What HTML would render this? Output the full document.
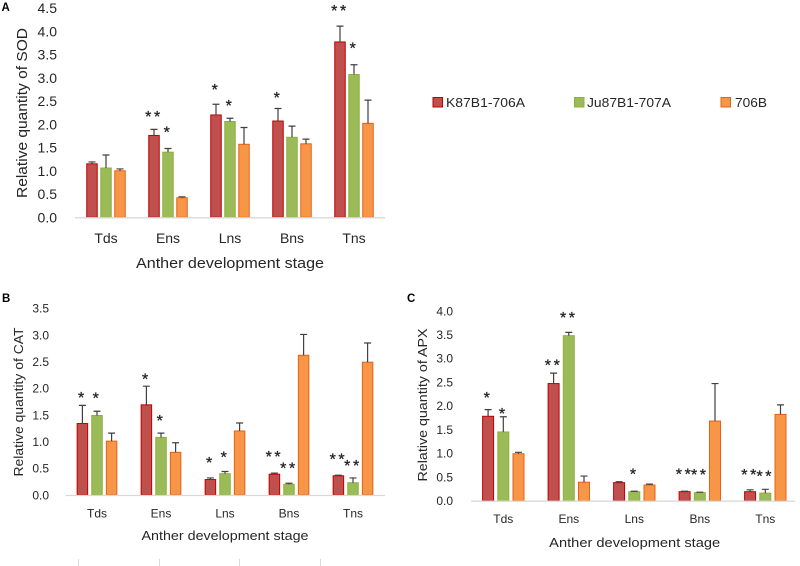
<!DOCTYPE html>
<html>
<head>
<meta charset="utf-8">
<title>Relative quantity of SOD, CAT and APX</title>
<style>
html,body{margin:0;padding:0;background:#fff;width:800px;height:566px;overflow:hidden}
svg{display:block;filter:blur(0.35px)}
text{font-family:"Liberation Sans",sans-serif;fill:#262626}
</style>
</head>
<body>
<svg id="chart" width="800" height="566" viewBox="0 0 800 566" xmlns="http://www.w3.org/2000/svg">
  <text x="1.5" y="11" font-size="11.5" font-weight="bold" style="fill:#000">A</text>
  <text x="2" y="302" font-size="11.5" font-weight="bold" style="fill:#000">B</text>
  <text x="407" y="302" font-size="11.5" font-weight="bold" style="fill:#000">C</text>

  <g>
    <rect x="433" y="97.5" width="9.5" height="9.5" fill="#c0504d" stroke="#c00000" stroke-width="1"/>
    <text x="446" y="107" font-size="13" textLength="79" lengthAdjust="spacingAndGlyphs">K87B1-706A</text>
    <rect x="574.5" y="97.5" width="9.5" height="9.5" fill="#9bbb59" stroke="#8db13f" stroke-width="1"/>
    <text x="587" y="107" font-size="13" textLength="84" lengthAdjust="spacingAndGlyphs">Ju87B1-707A</text>
    <rect x="721" y="97.5" width="9.5" height="9.5" fill="#f79646" stroke="#e8601a" stroke-width="1"/>
    <text x="735" y="107" font-size="13" textLength="32" lengthAdjust="spacingAndGlyphs">706B</text>
  </g>

  <g stroke="#d9d9d9" stroke-width="1">
    <line x1="78.5" y1="559" x2="78.5" y2="566"/>
    <line x1="159.5" y1="559" x2="159.5" y2="566"/>
    <line x1="239.5" y1="559" x2="239.5" y2="566"/>
    <line x1="320.5" y1="559" x2="320.5" y2="566"/>
  </g>
</svg>
<script>
const stages = ['Tds', 'Ens', 'Lns', 'Bns', 'Tns'];
const seriesNames = ['K87B1-706A', 'Ju87B1-707A', '706B'];

const sodTicks = ['0.0', '0.5', '1.0', '1.5', '2.0', '2.5', '3.0', '3.5', '4.0', '4.5'];
const sodK = [1.15, 1.76, 2.20, 2.07, 3.77];
const sodJ = [1.06, 1.40, 2.06, 1.72, 3.07];
const sodO = [1.00, 0.42, 1.57, 1.58, 2.02];
const sodErrK = [0.04, 0.13, 0.23, 0.27, 0.34];
const sodErrJ = [0.28, 0.08, 0.07, 0.24, 0.21];
const sodErrO = [0.04, 0.02, 0.36, 0.10, 0.50];
const sodStarsK = ['', '**', '*', '*', '**'];
const sodStarsJ = ['', '*', '*', '', '*'];
const sodStarsO = ['', '', '', '', ''];

const catTicks = ['0.0', '0.5', '1.0', '1.5', '2.0', '2.5', '3.0', '3.5'];
const catK = [1.34, 1.69, 0.29, 0.39, 0.36];
const catJ = [1.49, 1.08, 0.40, 0.20, 0.23];
const catO = [1.01, 0.80, 1.20, 2.62, 2.49];
const catErrK = [0.34, 0.35, 0.03, 0.02, 0.01];
const catErrJ = [0.08, 0.08, 0.04, 0.02, 0.09];
const catErrO = [0.15, 0.18, 0.15, 0.39, 0.36];
const catStarsK = ['*', '*', '*', '**', '**'];
const catStarsJ = ['*', '*', '*', '**', '**'];
const catStarsO = ['', '', '', '', ''];

const apxTicks = ['0.0', '0.5', '1.0', '1.5', '2.0', '2.5', '3.0', '3.5', '4.0'];
const apxK = [1.78, 2.47, 0.38, 0.19, 0.19];
const apxJ = [1.45, 3.48, 0.19, 0.17, 0.16];
const apxO = [0.99, 0.39, 0.33, 1.68, 1.82];
const apxErrK = [0.14, 0.22, 0.02, 0.01, 0.04];
const apxErrJ = [0.32, 0.07, 0.01, 0.01, 0.08];
const apxErrO = [0.03, 0.13, 0.02, 0.79, 0.20];
const apxStarsK = ['*', '**', '', '**', '**'];
const apxStarsJ = ['*', '**', '*', '**', '**'];
const apxStarsO = ['', '', '', '', ''];

const seriesFill = ['#c0504d', '#9bbb59', '#f79646'];
const seriesStroke = ['#c00000', '#8db13f', '#e8601a'];
const NS = 'http://www.w3.org/2000/svg';
const root = document.getElementById('chart');

function el(parent, tag, attrs, txt) {
  const e = document.createElementNS(NS, tag);
  for (const k in attrs) e.setAttribute(k, attrs[k]);
  if (txt !== undefined) e.textContent = txt;
  parent.appendChild(e);
  return e;
}

function drawPanel(p) {
  const g = el(root, 'g', {});
  
  
  const maxVal = parseFloat(p.ticks[p.ticks.length - 1]);
  const y = v => p.y0 - (v / maxVal) * (p.y0 - p.yTop);
  const gx = i => p.x1st + i * p.groupStep;

  p.ticks.forEach(t => {
    const lab = el(g, 'text', {x: p.tickRight, y: y(parseFloat(t)) + p.tickFont * 0.36, 'text-anchor': 'end', 'font-size': p.tickFont}, t);
    
    
  });

  p.series.forEach((vals, s) => {
    vals.forEach((v, i) => {
      const cx = gx(i) + (s - 1) * p.barStep;
      const top = y(v);
      const bar = el(g, 'rect', {x: cx - p.barW / 2, y: top, width: p.barW, height: p.y0 - top, fill: seriesFill[s], stroke: seriesStroke[s], 'stroke-width': 1});
      
      

      const errTop = y(v + p.errors[s][i]);
      const whisker = el(g, 'path', {d: 'M' + cx + ' ' + top + 'V' + errTop + 'M' + (cx - 3.5) + ' ' + errTop + 'H' + (cx + 3.5), stroke: '#404040', 'stroke-width': 1.2, fill: 'none'});
      
      

      const mark = p.stars[s][i];
      if (mark) {
        const lift = p.starLift[s] ? p.starLift[s][i] : 6;
        const star = el(g, 'text', {x: cx, y: errTop - lift, 'text-anchor': 'middle', 'font-size': 16, 'letter-spacing': 2.6, stroke: '#262626', 'stroke-width': 0.3}, mark);
        
        
      }
    });
  });

  const axis = el(g, 'line', {x1: p.axisL, x2: p.axisR, y1: p.y0 + 0.5, y2: p.y0 + 0.5, stroke: '#d9d9d9', 'stroke-width': 1.3});
  
  

  stages.forEach((c, i) => {
    const lab = el(g, 'text', {x: gx(i), y: p.catY, 'text-anchor': 'middle', 'font-size': p.tickFont}, c);
    
    
  });

  const xt = el(g, 'text', {x: p.xTitle[0], y: p.xTitle[1], 'text-anchor': 'middle', 'font-size': p.titleFont, textLength: p.xTitle[2], lengthAdjust: 'spacingAndGlyphs'}, 'Anther development stage');
  
  

  const yt = el(g, 'text', {transform: 'translate(' + p.yTitle[0] + ' ' + p.yTitle[1] + ') rotate(-90)', 'text-anchor': 'middle', 'font-size': p.titleFont, textLength: p.yTitle[2], lengthAdjust: 'spacingAndGlyphs'}, p.yLabel);
  
  
}

drawPanel({
  id: 'sod', ticks: sodTicks, series: [sodK, sodJ, sodO], errors: [sodErrK, sodErrJ, sodErrO], stars: [sodStarsK, sodStarsJ, sodStarsO],
  starLift: [[0, 7.4, 9.3, 5.5, 10], [0, 10.8, 7, 0, 11]],
  y0: 217.3, yTop: 8, x1st: 106, groupStep: 62, barStep: 14, barW: 10.5, axisL: 75, axisR: 385,
  tickRight: 57, tickFont: 14, catY: 243, titleFont: 14.5, xTitle: [230, 268, 188], yTitle: [27, 113, 170], yLabel: 'Relative quantity of SOD'
});
drawPanel({
  id: 'cat', ticks: catTicks, series: [catK, catJ, catO], errors: [catErrK, catErrJ, catErrO], stars: [catStarsK, catStarsJ, catStarsO],
  starLift: [[2.4, 1.5, 10, 11, 10.6], [8, 7, 8.8, 10, 6.7]],
  y0: 495, yTop: 308.3, x1st: 97, groupStep: 64, barStep: 14.6, barW: 10.5, axisL: 65.5, axisR: 385,
  tickRight: 49, tickFont: 12, catY: 517.5, titleFont: 13, xTitle: [225, 540, 167], yTitle: [23, 402, 149], yLabel: 'Relative quantity of CAT'
});
drawPanel({
  id: 'apx', ticks: apxTicks, series: [apxK, apxJ, apxO], errors: [apxErrK, apxErrJ, apxErrO], stars: [apxStarsK, apxStarsJ, apxStarsO],
  starLift: [[6.6, 2.8, 0, 11.5, 10], [-2, 9.4, 11.5, 12, 8]],
  y0: 500.7, yTop: 311, x1st: 503.3, groupStep: 65.5, barStep: 15.2, barW: 11, axisL: 471, axisR: 795,
  tickRight: 453, tickFont: 12, catY: 523, titleFont: 13, xTitle: [634.7, 547, 171], yTitle: [427, 405, 153], yLabel: 'Relative quantity of APX'
});
</script>
</body>
</html>
